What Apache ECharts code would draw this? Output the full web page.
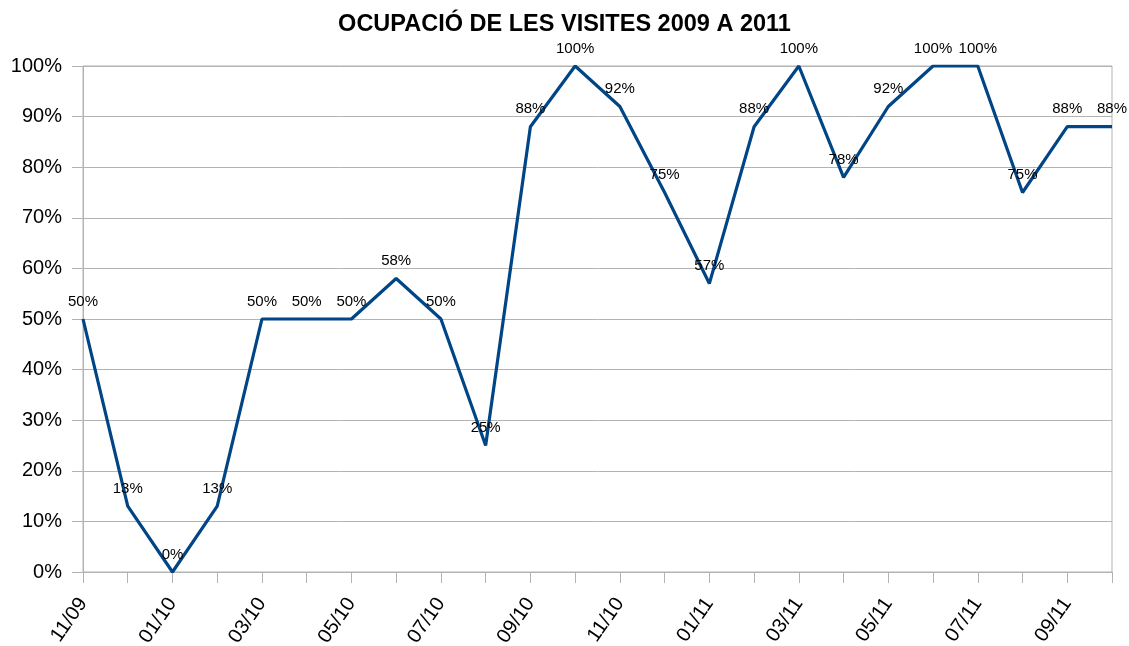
<!DOCTYPE html>
<html>
<head>
<meta charset="utf-8">
<script src="https://cdn.jsdelivr.net/npm/echarts@6/dist/echarts.min.js"></script>
<style>
html,body{margin:0;padding:0;background:#fff;}
#chart{width:1129px;height:646px;}
</style>
</head>
<body>
<div id="chart"></div>
<script>
const titleText = 'OCUPACIÓ DE LES VISITES 2009 A 2011';
const categories = ['11/09','12/09','01/10','02/10','03/10','04/10','05/10','06/10','07/10','08/10','09/10','10/10','11/10','12/10','01/11','02/11','03/11','04/11','05/11','06/11','07/11','08/11','09/11','10/11'];
const occupancy = [50,13,0,13,50,50,50,58,50,25,88,100,92,75,57,88,100,78,92,100,100,75,88,88];
const yTicks = [0,10,20,30,40,50,60,70,80,90,100];

const font = "'Liberation Sans', Arial, sans-serif";
const grey = '#b3b3b3';
const chart = echarts.init(document.getElementById('chart'), null, {renderer:'canvas'});
chart.setOption({
  animation:false,
  backgroundColor:'#ffffff',
  title:{
    text:titleText, left:'center', top:8,
    textStyle:{fontFamily:font, fontSize:23.5, fontWeight:'bold', color:'#000'}
  },
  grid:{left:83, right:17, top:66, bottom:74, containLabel:false, outerBoundsMode:'none', show:true, borderColor:grey, borderWidth:1},
  xAxis:{
    type:'category', data:categories, boundaryGap:false,
    axisLine:{show:true, lineStyle:{color:grey, width:1}},
    axisTick:{show:true, interval:0, length:11, lineStyle:{color:grey}},
    axisLabel:{interval:1, rotate:55, margin:28, fontFamily:font, fontSize:20, color:'#000'},
    splitLine:{show:false}
  },
  yAxis:{
    type:'value', min:yTicks[0], max:yTicks[yTicks.length-1], interval:10,
    axisLine:{show:true, lineStyle:{color:grey, width:1}},
    axisTick:{show:true, length:11, lineStyle:{color:grey}},
    axisLabel:{formatter:'{value}%', margin:21, fontFamily:font, fontSize:20, color:'#000'},
    splitLine:{show:true, lineStyle:{color:grey, width:1}}
  },
  series:[{
    type:'line', data:occupancy,
    symbol:'circle', symbolSize:0, showSymbol:true,
    lineStyle:{color:'#004586', width:3.2},
    itemStyle:{color:'#004586'},
    label:{show:true, position:'top', distance:10, formatter:'{c}%', fontFamily:font, fontSize:15, color:'#000'}
  }]
});
</script>
</body>
</html>
